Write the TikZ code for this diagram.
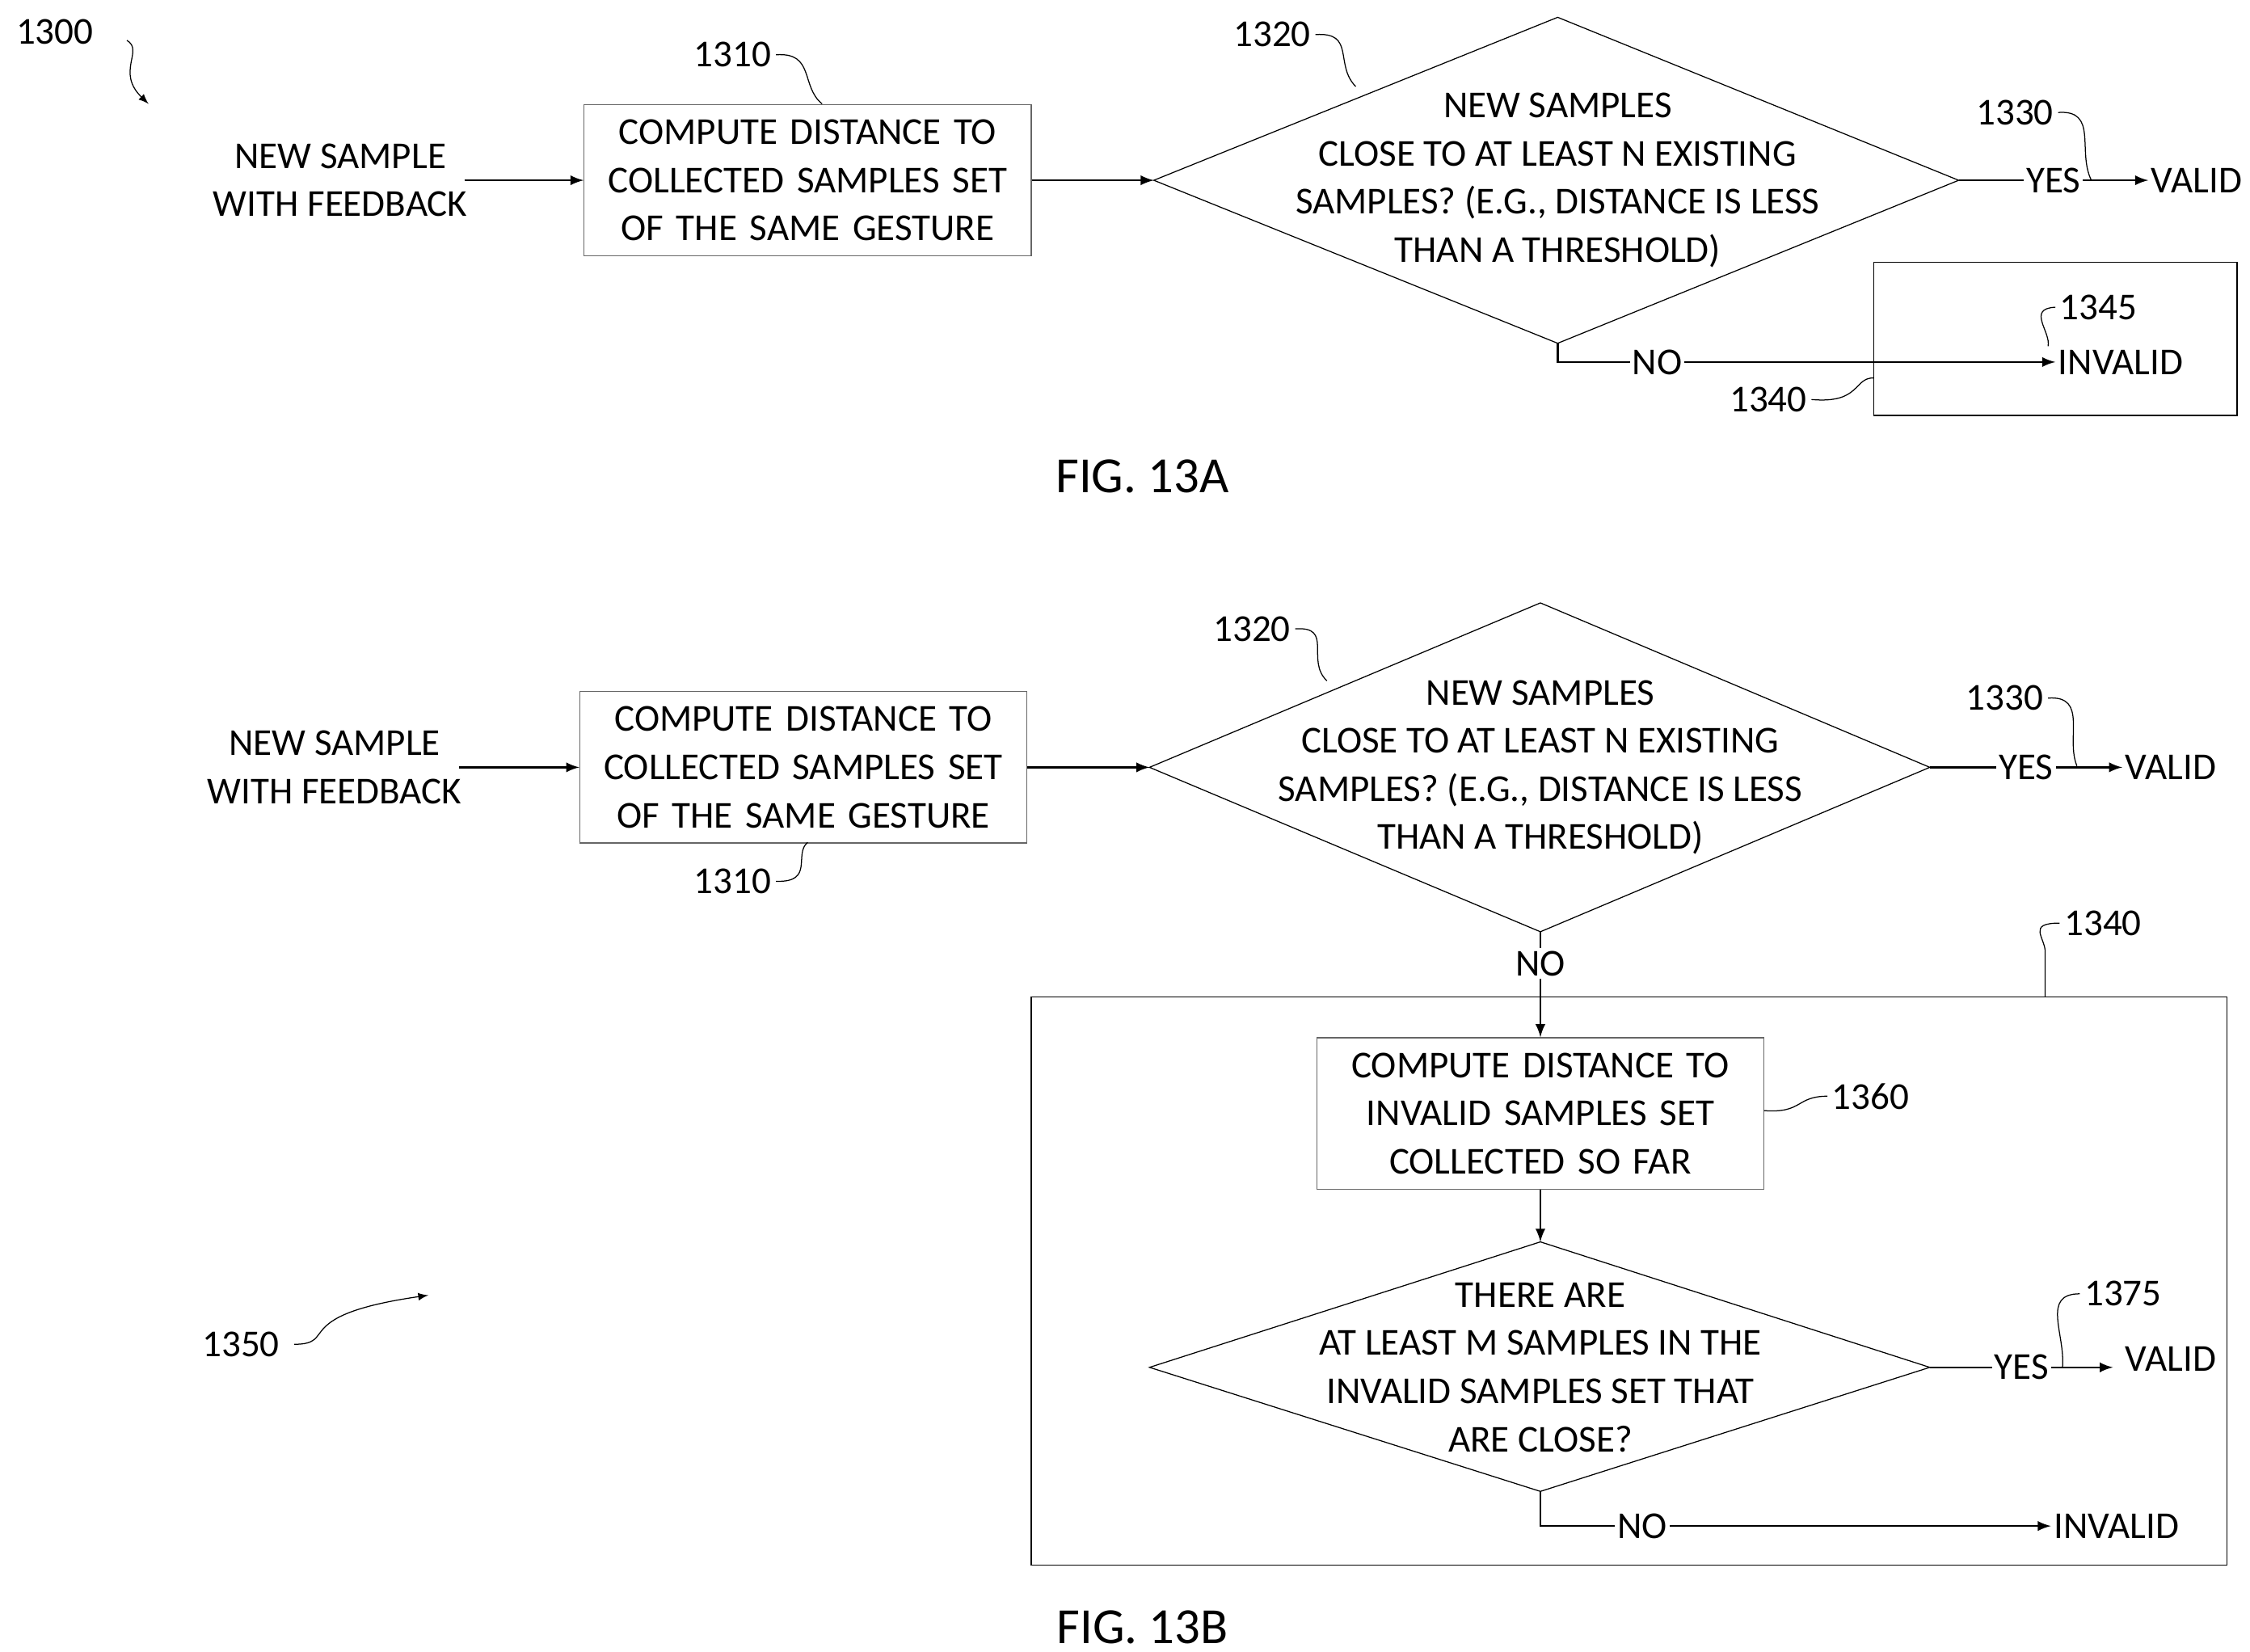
\documentclass[tikz,border=0pt]{standalone}
\usepackage{fontspec}
\setmainfont{Carlito}
\usetikzlibrary{positioning,calc}

\begin{document}
\begin{tikzpicture}
    [x=0.02cm, y=-0.02cm,
        font=\fontsize{15}{19}\selectfont,
        box/.style={
          rectangle,
          draw=black!60,
          text width=5.9cm,
          align=center,
          minimum height=2.1cm,
          minimum width=6.2cm
        },
        txt/.style={align=center, inner sep=1pt},
        lbl/.style={fill=white, inner sep=1pt},
        flow/.style={-latex, thick},
        lead/.style={thin}
    ]
    \useasboundingbox (0,0) rectangle (1560,1145);

    % FIG. 13A
    \node[txt] (ref1300) at (38,22) {1300};
    \draw[lead,-latex] (88,28) .. controls (100,35) and (80,50) .. (103,72);

    \node[txt] (in1) at (236,125) {NEW SAMPLE\\WITH FEEDBACK};
    \node[box] (comp1) at (560,125) {COMPUTE DISTANCE TO\\COLLECTED SAMPLES SET\\OF THE SAME GESTURE};
    \coordinate (d1l) at (800,125);
    \coordinate (d1r) at (1358,125);
    \coordinate (d1t) at (1080,12);
    \coordinate (d1b) at (1080,238);
    \draw (d1l) -- (d1t) -- (d1r) -- (d1b) -- cycle;
    \node[txt] (dec1) at (1080,125) {NEW SAMPLES\\CLOSE TO AT LEAST N EXISTING\\SAMPLES? (E.G., DISTANCE IS LESS\\THAN A THRESHOLD)};
    \node[txt] (valid1) at (1523,125) {VALID};
    \node[txt, anchor=west] (inval1) at (1425,251) {INVALID};
    \draw[flow] (322,125) -- (comp1.west);
    \draw[flow] (comp1.east) -- (d1l);
    \draw[flow] (d1r) -- node[lbl] {YES} (valid1.west);
    \draw[flow] (d1b) |- node[lbl, pos=0.6] {NO} (inval1.west);
    \draw (1299,182) rectangle (1551,288);

    \node[txt] (ref1310a) at (508,38) {1310};
    \draw[lead] (538,38) .. controls (565,36) and (555,60) .. (570,72);
    \node[txt] (ref1320a) at (882,24) {1320};
    \draw[lead] (912,24) .. controls (940,22) and (925,45) .. (940,60);
    \node[txt] (ref1330a) at (1397,78) {1330};
    \draw[lead] (1427,78) .. controls (1455,76) and (1440,105) .. (1450,125);
    \node[txt] (ref1345) at (1455,213) {1345};
    \draw[lead] (1425,213) .. controls (1405,214) and (1422,230) .. (1420,240);
    \node[txt] (ref1340a) at (1226,277) {1340};
    \draw[lead] (1256,277) .. controls (1290,280) and (1285,262) .. (1299,262);

    \node[font=\fontsize{20}{24}\selectfont] (fig13a) at (792,330) {FIG. 13A};

    % FIG. 13B
    \node[txt] (in2) at (232,532) {NEW SAMPLE\\WITH FEEDBACK};
    \node[box] (comp2) at (557,532) {COMPUTE DISTANCE TO\\COLLECTED SAMPLES SET\\OF THE SAME GESTURE};
    \coordinate (d2l) at (797,532);
    \coordinate (d2r) at (1338,532);
    \coordinate (d2t) at (1068,418);
    \coordinate (d2b) at (1068,646);
    \draw (d2l) -- (d2t) -- (d2r) -- (d2b) -- cycle;
    \node[txt] (dec2) at (1068,532) {NEW SAMPLES\\CLOSE TO AT LEAST N EXISTING\\SAMPLES? (E.G., DISTANCE IS LESS\\THAN A THRESHOLD)};
    \node[txt] (valid2) at (1505,532) {VALID};
    \draw[flow] (318,532) -- (comp2.west);
    \draw[flow] (comp2.east) -- (d2l);
    \draw[flow] (d2r) -- node[lbl] {YES} (valid2.west);

    \draw (715,691) rectangle (1544,1085);
    \node[box] (comp3) at (1068,772) {COMPUTE DISTANCE TO\\INVALID SAMPLES SET\\COLLECTED SO FAR};
    \draw[flow] (d2b) -- node[lbl, pos=0.3] {NO} (comp3.north);
    \coordinate (d3l) at (797,948);
    \coordinate (d3r) at (1338,948);
    \coordinate (d3t) at (1068,861);
    \coordinate (d3b) at (1068,1034);
    \draw (d3l) -- (d3t) -- (d3r) -- (d3b) -- cycle;
    \node[txt] (dec3) at (1068,948) {THERE ARE\\AT LEAST M SAMPLES IN THE\\INVALID SAMPLES SET THAT\\ARE CLOSE?};
    \draw[flow] (comp3.south) -- (d3t);
    \node[txt] (valid3) at (1505,942) {VALID};
    \node[txt, anchor=west] (inval3) at (1422,1058) {INVALID};
    \draw[flow] (d3r) -- node[lbl] {YES} (1465,948);
    \draw[flow] (d3b) |- node[lbl, pos=0.6] {NO} (inval3.west);

    \node[txt] (ref1320b) at (868,436) {1320};
    \draw[lead] (898,436) .. controls (925,434) and (905,458) .. (920,472);
    \node[txt] (ref1310b) at (508,611) {1310};
    \draw[lead] (538,611) .. controls (565,612) and (550,592) .. (560,584);
    \node[txt] (ref1330b) at (1390,484) {1330};
    \draw[lead] (1420,484) .. controls (1448,482) and (1432,512) .. (1440,531);
    \node[txt] (ref1340b) at (1458,640) {1340};
    \draw[lead] (1428,640) .. controls (1405,640) and (1418,650) .. (1418,660) -- (1418,691);
    \node[txt] (ref1360) at (1297,760) {1360};
    \draw[lead] (1267,760) .. controls (1245,760) and (1250,772) .. (1223,770);
    \node[txt] (ref1375) at (1472,897) {1375};
    \draw[lead] (1442,897) .. controls (1415,897) and (1432,925) .. (1430,948);
    \node[txt] (ref1350) at (167,932) {1350};
    \draw[lead,-latex] (204,932) .. controls (235,932) and (200,912) .. (297,898);

    \node[font=\fontsize{20}{24}\selectfont] (fig13b) at (792,1128) {FIG. 13B};
\end{tikzpicture}
\end{document}
